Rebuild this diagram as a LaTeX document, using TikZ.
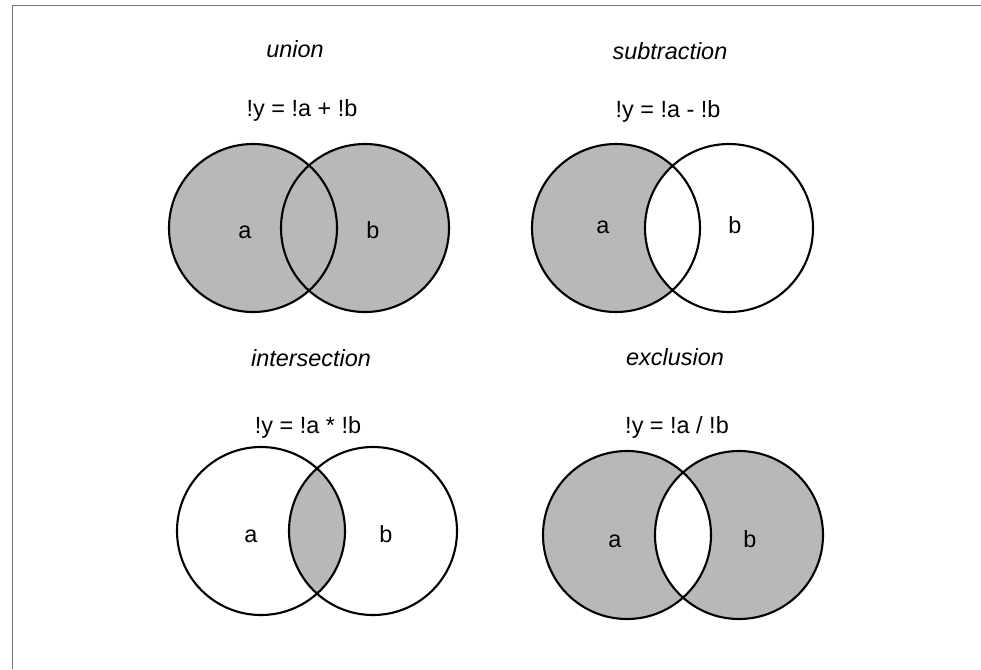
\documentclass[tikz,border=0pt]{standalone}
\usepackage{fontspec}
\setmainfont{Liberation Sans}
\newcommand{\discr}{2.52cm}

\begin{document}
\begin{tikzpicture}[
  x=0.03cm, y=-0.03cm,
  font=\fontsize{20}{24}\selectfont,
  title/.style={anchor=base, font=\fontsize{20}{24}\selectfont\itshape},
  formula/.style={anchor=base},
  letter/.style={anchor=base},
  ring/.style={draw=black, line width=1.8pt},
  shade/.style={fill=black!28}
]
\useasboundingbox (0,0) rectangle (981,669);
\draw[black!55, line width=0.6pt] (12,669) -- (12,5) -- (981,5);

% union
\coordinate (ua) at (253,228);
\coordinate (ub) at (365,228);
\fill[shade] (ua) circle[radius=\discr] (ub) circle[radius=\discr];
\draw[ring] (ua) circle[radius=\discr] (ub) circle[radius=\discr];
\node[title] (union) at (295,57) {union};
\node[formula] (union-f) at (302,116) {!y = !a + !b};
\node[letter] (ua-l) at (245,238) {a};
\node[letter] (ub-l) at (373,238) {b};

% subtraction
\coordinate (sa) at (616,228);
\coordinate (sb) at (729,228);
\fill[shade] (sa) circle[radius=\discr];
\fill[white] (sb) circle[radius=\discr];
\draw[ring] (sa) circle[radius=\discr] (sb) circle[radius=\discr];
\node[title] (subtr) at (670,59) {subtraction};
\node[formula] (subtr-f) at (668,117) {!y = !a - !b};
\node[letter] (sa-l) at (603,233) {a};
\node[letter] (sb-l) at (735,233) {b};

% intersection
\coordinate (ia) at (261,531);
\coordinate (ib) at (373,531);
\begin{scope}
  \clip (ia) circle[radius=\discr];
  \fill[shade] (ib) circle[radius=\discr];
\end{scope}
\draw[ring] (ia) circle[radius=\discr] (ib) circle[radius=\discr];
\node[title] (inter) at (311,366) {intersection};
\node[formula] (inter-f) at (308,433) {!y = !a * !b};
\node[letter] (ia-l) at (251,542) {a};
\node[letter] (ib-l) at (386,542) {b};

% exclusion
\coordinate (ea) at (627,535);
\coordinate (eb) at (739,535);
\fill[shade, even odd rule] (ea) circle[radius=\discr] (eb) circle[radius=\discr];
\draw[ring] (ea) circle[radius=\discr] (eb) circle[radius=\discr];
\node[title] (excl) at (675,365) {exclusion};
\node[formula] (excl-f) at (677,433) {!y = !a / !b};
\node[letter] (ea-l) at (615,547) {a};
\node[letter] (eb-l) at (750,547) {b};

\end{tikzpicture}
\end{document}
